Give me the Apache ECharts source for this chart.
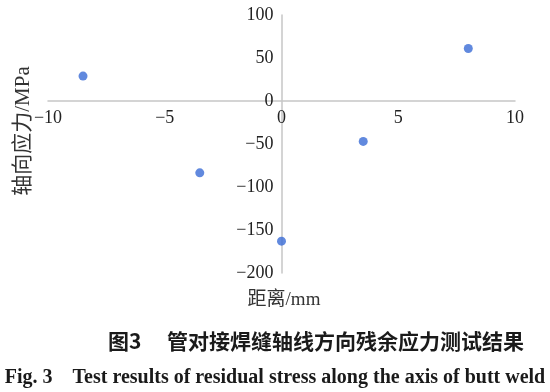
<!DOCTYPE html>
<html><head><meta charset="utf-8">
<script src="https://cdn.jsdelivr.net/npm/echarts@6/dist/echarts.min.js"></script>
<style>html,body{margin:0;padding:0;background:#fff}#c{width:550px;height:392px}</style>
</head><body><div id="c"></div>
<script>
var xValues = [-8.5, -3.5, 0, 3.5, 8.0];
var yValues = [29, -83.5, -163, -47, 61];
var xTicks = [-10, -5, 0, 5, 10];
var yTicks = [-200, -150, -100, -50, 0, 50, 100];
var xTitle = '距离/mm';
var yTitle = '轴向应力/MPa';
var captionCN = '图3 　管对接焊缝轴线方向残余应力测试结果';
var captionEN = 'Fig. 3    Test results of residual stress along the axis of butt weld';

var serif = "'Liberation Serif','Noto Sans CJK SC',serif";
var G = {left:48,right:35,top:15,bottom:119,W:550,H:392};
var gw = G.W-G.left-G.right, gh = G.H-G.top-G.bottom;
var xMin = xTicks[0], xMax = xTicks[xTicks.length-1];
var yMin = yTicks[0], yMax = yTicks[yTicks.length-1];
// shift axes so they cross at the origin, like the reference
var yOff = -gw*(0-xMin)/(xMax-xMin);
var xOff = -gh*(0-yMin)/(yMax-yMin);
var chart = echarts.init(document.getElementById('c'), null, {renderer:'canvas'});
function fmt(v){ return String(v).replace('-', '\u2212'); }
chart.setOption({
  animation:false,
  grid:{left:G.left,right:G.right,top:G.top,bottom:G.bottom},
  xAxis:{type:'value',min:xMin,max:xMax,interval:5,offset:xOff,
    axisLine:{onZero:false,lineStyle:{color:'#c6c6c6',width:1.5}},
    axisTick:{show:false},splitLine:{show:false},
    axisLabel:{margin:8,fontFamily:serif,fontSize:18,color:'#222',formatter:fmt}},
  yAxis:{type:'value',min:yMin,max:yMax,interval:50,offset:yOff,
    axisLine:{show:true,onZero:false,lineStyle:{color:'#c6c6c6',width:1.5}},
    axisTick:{show:false},splitLine:{show:false},
    axisLabel:{margin:8,fontFamily:serif,fontSize:18,color:'#222',formatter:fmt}},
  series:[{type:'scatter',symbolSize:9,itemStyle:{color:'#3a6cd6'},z:5,
    data:xValues.map(function(x,i){return [x,yValues[i]];})}],
  graphic:[
    {type:'text',x:23,y:131,rotation:Math.PI/2,style:{text:yTitle,font:"21px "+serif,fill:'#333',align:'center',verticalAlign:'middle'}},
    {type:'text',x:284,y:300,style:{text:xTitle,font:"19px "+serif,fill:'#333',align:'center',verticalAlign:'middle'}},
    {type:'text',x:316,y:341,style:{text:captionCN,font:"bold 21px 'Noto Sans CJK SC',sans-serif",fill:'#1a1a1a',align:'center',verticalAlign:'middle'}},
    {type:'text',x:275,y:378,style:{text:captionEN,font:"bold 20px 'Liberation Serif',serif",fill:'#1a1a1a',align:'center',verticalAlign:'middle'}}
  ]
});
</script></body></html>
